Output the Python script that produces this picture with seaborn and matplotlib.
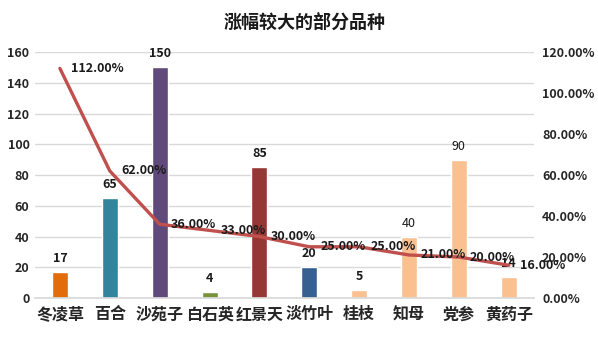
import matplotlib
matplotlib.use("Agg")
import matplotlib.pyplot as plt
import seaborn as sns
import pandas as pd
from matplotlib.ticker import FuncFormatter, MultipleLocator

categories = ["冬凌草", "百合", "沙苑子", "白石英", "红景天", "淡竹叶", "桂枝", "知母", "党参", "黄药子"]
prices = [17, 65, 150, 4, 85, 20, 5, 40, 90, 14]
growth = [1.12, 0.62, 0.36, 0.33, 0.30, 0.25, 0.25, 0.21, 0.20, 0.16]
bar_colors = ["#E36C0A", "#31849B", "#604A7B", "#77933C", "#953735",
              "#366092", "#FAC090", "#FAC090", "#FAC090", "#FAC090"]
bar_label_weights = ["bold", "bold", "bold", "bold", "bold",
                     "bold", "bold", "normal", "normal", "bold"]
line_color = "#C0504D"

sns.set_theme(style="white")
plt.rcParams['font.family'] = ['Noto Sans CJK SC', 'DejaVu Sans']
plt.rcParams['font.weight'] = 'bold'

df = pd.DataFrame({"cat": categories, "price": prices, "growth": growth})

fig = plt.figure(figsize=(5.98, 3.49), dpi=100)
ax = fig.add_axes([0.0585, 0.146, 0.834, 0.705])

sns.barplot(data=df, x="cat", y="price", hue="cat", palette=bar_colors,
            legend=False, width=0.32, ax=ax, saturation=1)
ax.set_ylim(0, 160)
ax.set_xlim(-0.5, len(categories) - 0.5)
ax.yaxis.set_major_locator(MultipleLocator(20))
ax.grid(axis="y", color="#D9D9D9", linewidth=1)
ax.set_axisbelow(True)
for s in ["top", "left", "right"]:
    ax.spines[s].set_visible(False)
ax.spines["bottom"].set_color("#D9D9D9")
ax.set_xlabel("")
ax.set_ylabel("")
ax.tick_params(axis="y", length=0, pad=4, labelsize=9)
ax.tick_params(axis="x", length=0, pad=6, labelsize=11.5)
for lab in ax.get_yticklabels() + ax.get_xticklabels():
    lab.set_fontweight("bold")

for cont, w in zip(ax.containers, bar_label_weights):
    ax.bar_label(cont, padding=5, fontsize=9, fontweight=w, color="#1a1a1a")

ax2 = ax.twinx()
sns.lineplot(data=df, x="cat", y="growth", sort=False, color=line_color,
             linewidth=2.4, ax=ax2)
ax2.set_ylim(0, 1.2)
ax2.yaxis.set_major_locator(MultipleLocator(0.2))
ax2.yaxis.set_major_formatter(FuncFormatter(lambda v, p: f"{v*100:.2f}%"))
ax2.tick_params(axis="y", length=0, pad=6, labelsize=9)
for lab in ax2.get_yticklabels():
    lab.set_fontweight("bold")
for s in ["top", "left", "right", "bottom"]:
    ax2.spines[s].set_visible(False)
ax2.set_ylabel("")
ax2.set_xlabel("")
ax2.grid(False)

for i, (c, g) in enumerate(zip(categories, growth)):
    ax2.annotate(f"{g*100:.2f}%", xy=(i, g), xytext=(8, 0),
                 textcoords="offset points", ha="left", va="center",
                 fontsize=9, fontweight="bold", color="#1a1a1a")

fig.text(0.51, 0.937, "涨幅较大的部分品种", ha="center", va="center",
         fontsize=13, fontweight="bold", color="#1a1a1a")

fig.savefig("out.png", dpi=100, facecolor="white")
